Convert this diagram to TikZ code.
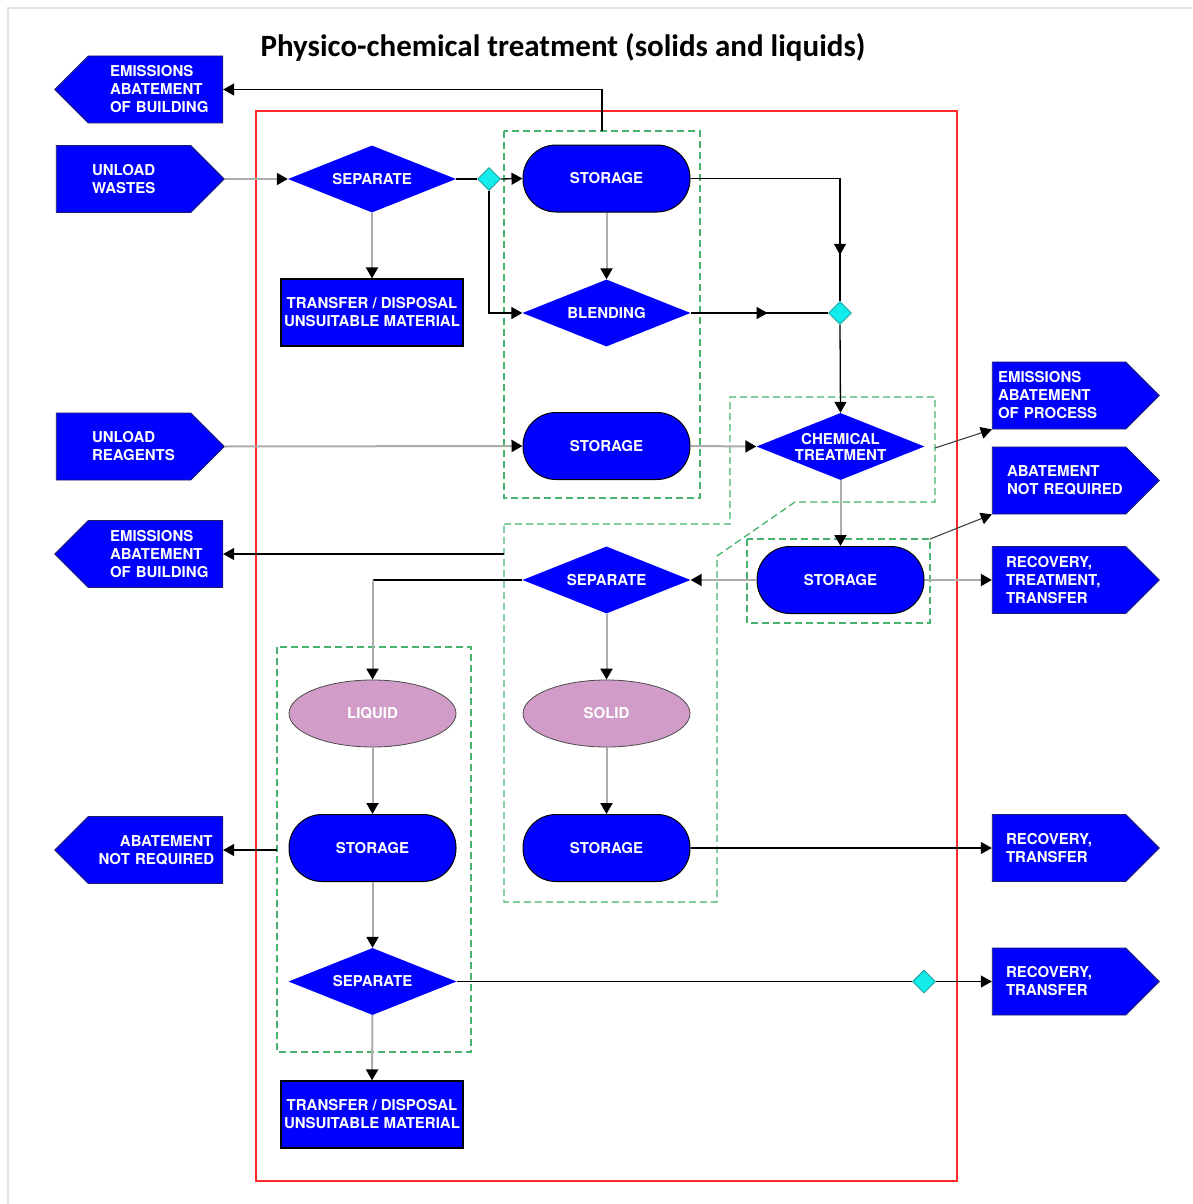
\documentclass[tikz,border=0pt]{standalone}
\usepackage{fontspec}
\setmainfont{Liberation Sans}
\newfontfamily\labelfont{texgyreheros-bold.otf}
\newfontfamily\titlefont{Carlito}
\usetikzlibrary{arrows.meta,shapes.geometric,shapes.symbols,decorations.markings}
\definecolor{boxblue}{RGB}{0,0,255}
\definecolor{edgenavy}{RGB}{30,30,110}
\definecolor{flowgray}{RGB}{172,172,172}
\definecolor{groupgreen}{RGB}{70,180,110}
\definecolor{junction}{RGB}{20,235,235}
\definecolor{junctionedge}{RGB}{30,150,150}
\definecolor{liquidpink}{RGB}{210,156,200}
\definecolor{framered}{RGB}{255,40,40}
\definecolor{pagegray}{RGB}{226,226,226}

\tikzset{
  lbl/.style={font=\labelfont\fontsize{15}{18}\selectfont, text=white,
    execute at begin node={\hyphenpenalty=10000\exhyphenpenalty=10000}},
  sigL/.style={lbl, signal, signal to=west, signal pointer angle=90,
    fill=boxblue, draw=edgenavy, line width=0.8pt,
    minimum width=168pt, minimum height=67pt, inner sep=0pt},
  sigR/.style={sigL, signal to=east, minimum width=167pt},
  stadium/.style={lbl, rectangle, rounded corners=33pt, fill=boxblue, draw=black,
    line width=1pt, minimum width=167pt, minimum height=67pt, inner sep=0pt},
  decision/.style={lbl, diamond, aspect=2.5, fill=boxblue, draw=none, minimum width=168pt,
    minimum height=67pt, inner sep=0pt, align=center},
  disposal/.style={lbl, rectangle, fill=boxblue, draw=black, line width=1.2pt,
    minimum width=182pt, minimum height=67pt, align=center, inner sep=0pt},
  phase/.style={lbl, ellipse, fill=liquidpink, draw=black!70, line width=0.8pt,
    minimum width=167pt, minimum height=67pt, inner sep=0pt},
  junct/.style={diamond, fill=junction, draw=junctionedge, line width=0.8pt,
    minimum width=23pt, minimum height=23pt, inner sep=0pt},
  tip/.style={-{Triangle[length=11pt,width=12pt,color=black]}},
  flow/.style={draw=black, line width=1.3pt},
  gflow/.style={draw=flowgray, line width=2pt},
  thinflow/.style={draw=black!75, line width=1.1pt},
  midtip/.style={postaction={decorate,decoration={markings,
    mark=at position #1 with {\arrow{Triangle[length=11pt,width=12pt,color=black]}}}}},
  group/.style={draw=groupgreen, line width=1.3pt, dash pattern=on 7pt off 4pt},
}

\begin{document}
\begin{tikzpicture}[x=1pt,y=-1pt]
\useasboundingbox (0,0) rectangle (1192,1204);
\fill[white] (0,0) rectangle (1192,1204);
% page frame
\draw[pagegray, line width=2pt] (8,1204) -- (8,8) -- (1192,8);

% title
\node[font=\titlefont\bfseries\fontsize{31}{36}\selectfont, text=black] (title) at (563,47)
  {Physico-chemical treatment (solids and liquids)};

% plant boundary
\draw[framered, line width=1.3pt] (256,111) rectangle (957,1181);

% process groups
\draw[group] (504,131) rectangle (700,498);
\draw[group] (504,524) -- (730,524) -- (730,397) -- (935,397) -- (935,502)
  -- (795,502) -- (717,556) -- (717,902) -- (504,902) -- cycle;
\draw[group] (747,539) rectangle (930,623);
\draw[group] (277,647) rectangle (471,1052);

% connector end points on group outlines
\coordinate (g1top) at (602,131);
\coordinate (gchem) at (935,448);
\coordinate (gsto) at (930,539);
\coordinate (gsep) at (504,554);
\coordinate (gliq) at (277,850);

% external inputs and outputs
\node[sigL, text width=91pt, align=left] (ew1) at (155.5,89.5) {EMISSIONS\\ABATEMENT\\OF~BUILDING};
\node[sigR, minimum width=168pt, text width=63pt, align=left] (uw) at (123.5,179) {UNLOAD\\WASTES};
\node[sigR, minimum width=168pt, text width=63pt, align=left] (ur) at (123.5,446.5) {UNLOAD\\REAGENTS};
\node[sigL, text width=91pt, align=left] (ew2) at (155.5,554) {EMISSIONS\\ABATEMENT\\OF~BUILDING};
\node[sigL, text width=114pt, align=right] (anr2) at (155.5,850)
  {ABATEMENT\hspace*{5pt}\\NOT~REQUIRED\hspace*{5pt}};

\node[sigR, text width=122pt, align=left] (ep) at (1059,395.5) {EMISSIONS\\ABATEMENT\\OF~PROCESS};
\node[sigR, text width=104pt, align=left] (anr1) at (1059,480.5) {ABATEMENT\\NOT~REQUIRED};
\node[sigR, text width=106pt, align=left] (rtt) at (1059,580) {RECOVERY,\\TREATMENT,\\TRANSFER};
\node[sigR, text width=106pt, align=left] (rt1) at (1059,848) {RECOVERY,\\TRANSFER};
\node[sigR, text width=106pt, align=left] (rt2) at (1059,981.5) {RECOVERY,\\TRANSFER};

% process steps
\node[decision] (sep1) at (372,179) {SEPARATE};
\node[disposal] (td1) at (372,312.5) {TRANSFER / DISPOSAL\\UNSUITABLE MATERIAL};
\node[junct] (j1) at (489,179) {};
\node[stadium] (sto1) at (606.5,178.5) {STORAGE};
\node[decision] (blend) at (606.5,313) {BLENDING};
\node[junct] (j2) at (840,313) {};
\node[stadium] (sto2) at (606.5,446) {STORAGE};
\node[decision] (chem) at (840.5,446.5) {CHEMICAL\\[-2pt]TREATMENT};
\node[stadium] (sto3) at (840.5,580) {STORAGE};
\node[decision] (sep2) at (606.5,580) {SEPARATE};
\node[phase] (liq) at (372.5,713.5) {LIQUID};
\node[phase] (sol) at (606.5,713.5) {SOLID};
\node[stadium] (sto4) at (372.5,848) {STORAGE};
\node[stadium] (sto5) at (606.5,848) {STORAGE};
\node[decision] (sep3) at (372.5,981.5) {SEPARATE};
\node[junct] (j3) at (924,981.5) {};
\node[disposal] (td2) at (372,1114.5) {TRANSFER / DISPOSAL\\UNSUITABLE MATERIAL};

% wastes line
\draw[gflow, tip] (uw.east) -- (sep1.west);
\draw[gflow, tip] (sep1.south) -- (td1.north);
\draw[flow] (sep1.east) -- (j1.west);
\draw[flow, tip] (j1.east) -- (sto1.west);
\draw[flow, tip] (j1.south) |- (blend.west);
\draw[gflow, tip] (sto1.south) -- (blend.north);
\draw[flow, tip] (g1top) |- (ew1.east);
\draw[flow, midtip=0.83] (sto1.east) -| (j2.north);
\draw[flow, midtip=0.56] (blend.east) -- (j2.west);
\draw[flow, tip] (j2.south) -- (chem.north);

% reagents and treatment
\draw[gflow, tip] (ur.east) -- (sto2.west);
\draw[gflow, tip] (sto2.east) -- (chem.west);
\draw[thinflow, tip] (gchem) -- (ep.south west);
\draw[gflow, tip] (chem.south) -- (sto3.north);
\draw[thinflow, tip] (gsto) -- (anr1.south west);
\draw[gflow, tip] (sto3.east) -- (rtt.west);
\draw[gflow, tip] (sto3.west) -- (sep2.east);

% separation into phases
\draw[flow, tip] (gsep) -- (ew2.east);
\draw[flow] (sep2.west) -- (sep2.west -| liq.north);
\draw[gflow, tip] (sep2.west -| liq.north) -- (liq.north);
\draw[gflow, tip] (sep2.south) -- (sol.north);
\draw[gflow, tip] (sol.south) -- (sto5.north);
\draw[flow, tip] (sto5.east) -- (rt1.west);
\draw[gflow, tip] (liq.south) -- (sto4.north);
\draw[flow, tip] (gliq) -- (anr2.east);
\draw[gflow, tip] (sto4.south) -- (sep3.north);
\draw[flow] (sep3.east) -- (j3.west);
\draw[flow, tip] (j3.east) -- (rt2.west);
\draw[gflow, tip] (sep3.south) -- (td2.north);
\end{tikzpicture}
\end{document}
